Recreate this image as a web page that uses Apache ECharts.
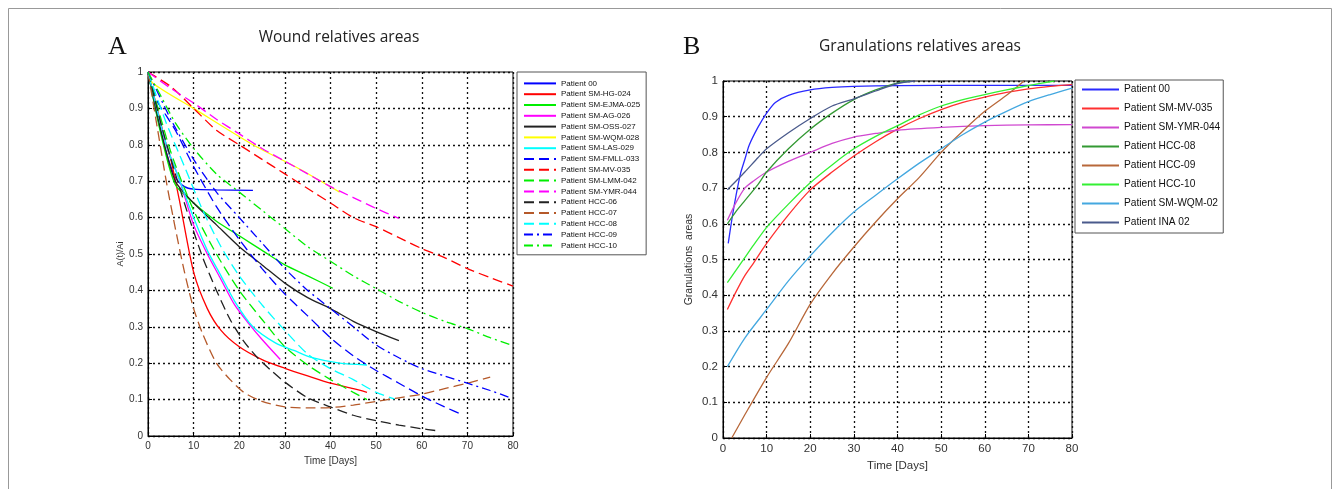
<!DOCTYPE html>
<html>
<head>
<meta charset="utf-8">
<script src="https://cdn.jsdelivr.net/npm/echarts@6/dist/echarts.min.js"></script>
<style>html,body{margin:0;padding:0;background:#fff}#c{width:1340px;height:489px}</style>
</head>
<body>
<div id="c"></div>
<script>
// ---------- Panel A: wound relative areas [day, A(t)/Ai] ----------
const wP00   = [[0,1],[2,0.88],[4,0.78],[6,0.71],[8,0.685],[10,0.678],[15,0.676],[23,0.675]];
const wHG024 = [[0,1],[2,0.9],[4,0.8],[5,0.76],[7,0.64],[10,0.45],[13,0.35],[16,0.29],[20,0.245],[25,0.21],[30,0.186],[35,0.165],[40,0.145],[45,0.13],[48,0.12]];
const wEJMA025 = [[0,1],[3,0.82],[6,0.69],[10,0.64],[15,0.59],[20,0.55],[25,0.51],[30,0.47],[35,0.44],[40.5,0.406]];
const wAG026 = [[0,1],[4,0.8],[7,0.7],[10,0.58],[13,0.5],[16,0.43],[19,0.36],[22,0.31],[25,0.265],[29,0.21]];
const wOSS027 = [[0,1],[3,0.83],[6,0.7],[10,0.64],[15,0.58],[20,0.52],[25,0.47],[30,0.42],[35,0.38],[40,0.35],[45,0.315],[50,0.287],[55,0.262]];
const wWQM028 = [[0,1],[1,0.97],[10,0.9],[23,0.8],[33,0.735],[42,0.67]];
const wLAS029 = [[0,1],[4,0.8],[7,0.7],[10,0.6],[13,0.51],[16,0.44],[19,0.37],[23,0.3],[28,0.255],[32,0.235],[36,0.215],[42,0.2],[48,0.195]];
const wFMLL033 = [[0,1],[2,0.92],[4,0.88],[6,0.84],[8,0.79],[10,0.74],[15,0.63],[20,0.54],[25,0.46],[30,0.39],[35,0.33],[40,0.27],[45,0.22],[50,0.18],[55,0.145],[60,0.11],[65,0.08],[69,0.058]];
const wMV035 = [[0,1],[5,0.96],[10,0.9],[15,0.84],[20,0.8],[25,0.76],[30,0.72],[35,0.68],[40,0.64],[45,0.6],[50,0.575],[55,0.545],[60,0.515],[65,0.49],[70,0.46],[75,0.435],[80,0.412]];
const wLMM042 = [[0,1],[5,0.78],[10,0.62],[15,0.5],[20,0.4],[25,0.32],[30,0.245],[35,0.195],[40,0.155],[45,0.12],[48,0.1]];
const wYMR044 = [[0,1],[5,0.955],[10,0.915],[15,0.87],[20,0.83],[25,0.79],[30,0.755],[35,0.72],[40,0.685],[45,0.655],[50,0.625],[55,0.598]];
const wHCC06 = [[0,1],[3,0.85],[6,0.72],[9,0.6],[12,0.49],[15,0.4],[18,0.32],[21,0.26],[24,0.215],[27,0.18],[30,0.148],[35,0.105],[40,0.08],[45,0.057],[50,0.042],[55,0.03],[60,0.02],[63,0.015]];
const wHCC07 = [[0,1],[2,0.85],[4,0.7],[6,0.57],[8,0.45],[10,0.35],[12,0.28],[15,0.2],[18,0.155],[21,0.12],[25,0.095],[30,0.08],[35,0.077],[40,0.078],[45,0.085],[50,0.095],[55,0.105],[60,0.115],[65,0.13],[70,0.145],[75,0.162]];
const wHCC08 = [[0,1],[4,0.86],[8,0.74],[12,0.62],[16,0.52],[20,0.44],[25,0.36],[30,0.29],[35,0.225],[40,0.185],[45,0.155],[50,0.12],[54,0.102]];
const wHCC09 = [[0,1],[5,0.87],[10,0.76],[15,0.67],[20,0.6],[25,0.53],[30,0.46],[35,0.4],[40,0.35],[45,0.3],[50,0.25],[55,0.215],[60,0.185],[65,0.165],[70,0.145],[75,0.125],[79,0.107]];
const wHCC10 = [[0,1],[3,0.93],[6,0.86],[10,0.79],[15,0.72],[20,0.67],[25,0.62],[30,0.57],[35,0.52],[40,0.48],[45,0.44],[50,0.405],[55,0.37],[60,0.34],[65,0.315],[70,0.295],[75,0.27],[80,0.248]];

// ---------- Panel B: granulation relative areas ----------
const gP00   = [[1.2,0.545],[2,0.61],[3,0.68],[4,0.74],[5,0.78],[6,0.82],[8,0.87],[10,0.91],[12,0.94],[15,0.96],[20,0.975],[25,0.982],[30,0.985],[40,0.987],[60,0.988],[80,0.988]];
const gMV035 = [[1,0.36],[3,0.41],[5,0.455],[7,0.49],[10,0.545],[15,0.625],[20,0.695],[25,0.745],[30,0.79],[35,0.83],[40,0.865],[45,0.895],[50,0.92],[55,0.94],[60,0.955],[65,0.968],[70,0.978],[75,0.985],[80,0.99]];
const gYMR044 = [[1,0.61],[3,0.66],[5,0.7],[7,0.72],[10,0.745],[15,0.775],[20,0.8],[25,0.825],[30,0.843],[35,0.853],[40,0.862],[50,0.87],[60,0.875],[70,0.877],[80,0.878]];
const gHCC08 = [[1,0.6],[3,0.635],[5,0.665],[8,0.71],[10,0.745],[15,0.81],[20,0.865],[25,0.91],[30,0.948],[35,0.975],[40,0.995],[43,1.0]];
const gHCC09 = [[2,0],[5,0.065],[10,0.17],[15,0.265],[20,0.375],[25,0.46],[30,0.535],[35,0.605],[40,0.67],[45,0.73],[50,0.8],[55,0.86],[60,0.915],[65,0.96],[69,1.0]];
const gHCC10 = [[1,0.435],[3,0.47],[5,0.505],[7,0.54],[10,0.59],[15,0.655],[20,0.715],[25,0.765],[30,0.81],[35,0.845],[40,0.875],[45,0.905],[50,0.93],[55,0.948],[60,0.962],[65,0.975],[70,0.987],[76,1.0]];
const gWQM02 = [[1,0.2],[5,0.28],[10,0.36],[15,0.44],[20,0.51],[25,0.575],[30,0.633],[35,0.68],[40,0.726],[45,0.77],[50,0.81],[55,0.85],[60,0.885],[65,0.915],[70,0.942],[75,0.962],[80,0.98]];
const gINA02 = [[1,0.695],[3,0.72],[5,0.745],[8,0.785],[10,0.81],[15,0.855],[20,0.895],[25,0.93],[30,0.95],[35,0.972],[40,0.993],[44,1.0]];

const DASH = [10, 5];
const DASHDOT = [9, 4, 2, 4];

const seriesA = [
  ['Patient 00', '#0000ff', 'solid', wP00],
  ['Patient SM-HG-024', '#ff0000', 'solid', wHG024],
  ['Patient SM-EJMA-025', '#00ee00', 'solid', wEJMA025],
  ['Patient SM-AG-026', '#ff00ff', 'solid', wAG026],
  ['Patient SM-OSS-027', '#222222', 'solid', wOSS027],
  ['Patient SM-WQM-028', '#ffff00', 'solid', wWQM028],
  ['Patient SM-LAS-029', '#00ffff', 'solid', wLAS029],
  ['Patient SM-FMLL-033', '#0000ff', DASH, wFMLL033],
  ['Patient SM-MV-035', '#ff0000', DASH, wMV035],
  ['Patient SM-LMM-042', '#00ee00', DASH, wLMM042],
  ['Patient SM-YMR-044', '#ff00ff', DASH, wYMR044],
  ['Patient HCC-06', '#222222', DASH, wHCC06],
  ['Patient HCC-07', '#b5592a', DASH, wHCC07],
  ['Patient HCC-08', '#00ffff', DASH, wHCC08],
  ['Patient HCC-09', '#0000ff', DASHDOT, wHCC09],
  ['Patient HCC-10', '#00ee00', DASHDOT, wHCC10]
];
const seriesB = [
  ['Patient 00', '#2a2aff', gP00],
  ['Patient SM-MV-035', '#ff3030', gMV035],
  ['Patient SM-YMR-044', '#d048d0', gYMR044],
  ['Patient HCC-08', '#339933', gHCC08],
  ['Patient HCC-09', '#b8683a', gHCC09],
  ['Patient HCC-10', '#33f033', gHCC10],
  ['Patient SM-WQM-02', '#44a8e0', gWQM02],
  ['Patient INA 02', '#4a5a8c', gINA02]
];

const FONT = 'Liberation Sans, Arial, sans-serif';
const series = [];
seriesA.forEach(s => series.push({
  type: 'line', name: 'A:' + s[0], xAxisIndex: 0, yAxisIndex: 0,
  data: s[3], symbol: 'none', smooth: 0.25,
  lineStyle: { color: s[1], width: 1.3, type: s[2] }, itemStyle: { color: s[1] },
  emphasis: { disabled: true }, animation: false
}));
seriesB.forEach(s => series.push({
  type: 'line', name: 'B:' + s[0], xAxisIndex: 1, yAxisIndex: 1,
  data: s[2], symbol: 'none', smooth: 0.25,
  lineStyle: { color: s[1], width: 1.3, type: 'solid' }, itemStyle: { color: s[1] },
  emphasis: { disabled: true }, animation: false
}));

function xAx(gi, nameGap, fs) {
  return {
    type: 'value', gridIndex: gi, min: 0, max: 80, interval: 10,
    name: 'Time [Days]', nameLocation: 'middle', nameGap: nameGap,
    nameTextStyle: { fontFamily: FONT, fontSize: fs, color: '#333' },
    axisLine: { show: true, lineStyle: { color: '#000', width: 1 } },
    axisTick: { inside: true, length: 4, lineStyle: { color: '#000' } },
    axisLabel: { fontFamily: FONT, fontSize: fs, color: '#333', margin: 5 },
    splitLine: { show: true, lineStyle: { color: '#111', width: 1.3, type: [2, 3] } }
  };
}
function yAx(gi, name, nameGap, fs) {
  return {
    type: 'value', gridIndex: gi, min: 0, max: 1, interval: 0.1,
    name: name, nameLocation: 'middle', nameGap: nameGap, nameRotate: 90,
    nameTextStyle: { fontFamily: FONT, fontSize: fs - 1, color: '#333' },
    axisLine: { show: true, lineStyle: { color: '#000', width: 1 } },
    axisTick: { inside: true, length: 4, lineStyle: { color: '#000' } },
    axisLabel: { fontFamily: FONT, fontSize: fs, color: '#333', margin: 5 },
    splitLine: { show: true, lineStyle: { color: '#111', width: 1.3, type: [2, 3] } }
  };
}

const option = {
  backgroundColor: '#fff',
  animation: false,
  grid: [
    { left: 148, top: 72, width: 365, height: 364, show: true, borderColor: '#000', borderWidth: 1, backgroundColor: 'transparent' },
    { left: 723, top: 81, width: 349, height: 357, show: true, borderColor: '#000', borderWidth: 1, backgroundColor: 'transparent' }
  ],
  xAxis: [xAx(0, 18, 10), xAx(1, 19, 11.5)],
  yAxis: [yAx(0, 'A(t)/Ai', 19, 10), yAx(1, 'Granulations  areas', 28, 11.5)],
  legend: [
    {
      data: seriesA.map(s => 'A:' + s[0]), orient: 'vertical', left: 517, top: 72,
      formatter: n => n.slice(2), itemWidth: 32, itemHeight: 2, itemGap: 0,
      itemStyle: { opacity: 0 },
      padding: [6, 6, 4, 6], borderColor: '#555', borderWidth: 1, backgroundColor: '#fff',
      textStyle: { fontFamily: FONT, fontSize: 8, color: '#111', lineHeight: 10.8 },
      selectedMode: false
    },
    {
      data: seriesB.map(s => 'B:' + s[0]), orient: 'vertical', left: 1075, top: 80,
      formatter: n => n.slice(2), itemWidth: 37, itemHeight: 2, itemGap: 0,
      itemStyle: { opacity: 0 },
      padding: [0, 3, 1, 6], borderColor: '#555', borderWidth: 1, backgroundColor: '#fff',
      textStyle: { fontFamily: FONT, fontSize: 10.2, color: '#111', lineHeight: 19 },
      selectedMode: false
    }
  ],
  graphic: [
    { type: 'rect', shape: { x: 8.5, y: 8.5, width: 1323, height: 495 }, style: { fill: 'none', stroke: '#999', lineWidth: 1 }, silent: true },
    { type: 'text', x: 108, y: 47, style: { text: 'A', font: '26px "Liberation Serif", serif', fill: '#111', verticalAlign: 'middle' } },
    { type: 'text', x: 683, y: 47, style: { text: 'B', font: '26px "Liberation Serif", serif', fill: '#111', verticalAlign: 'middle' } },
    { type: 'text', x: 339, y: 38, style: { text: 'Wound relatives areas', font: '15.5px "Open Sans", sans-serif', fill: '#222', align: 'center', verticalAlign: 'middle' } },
    { type: 'text', x: 920, y: 47, style: { text: 'Granulations relatives areas', font: '15.5px "Open Sans", sans-serif', fill: '#222', align: 'center', verticalAlign: 'middle' } }
  ],
  series: series
};

const chart = echarts.init(document.getElementById('c'), null, { renderer: 'canvas' });
chart.setOption(option);
</script>
</body>
</html>
